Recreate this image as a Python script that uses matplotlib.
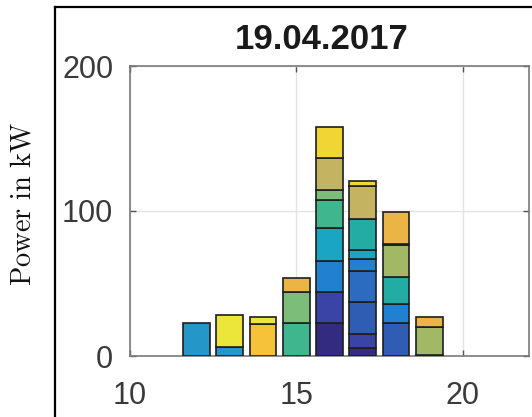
import matplotlib
matplotlib.use("Agg")
import matplotlib.pyplot as plt
from matplotlib.lines import Line2D
import numpy as np

plt.rcParams['font.family'] = ['Liberation Sans', 'DejaVu Sans']
plt.rcParams['mathtext.fontset'] = 'cm'

title = "19.04.2017"
ylabel = r"$\mathrm{Power\ in\ kW}$"
hours = [12, 13, 14, 15, 16, 17, 18, 19]
xticks = [10, 15, 20]
yticks = [0, 100, 200]

# stacked series (kW per hour), bottom to top
series_values = [
    [0, 0, 0, 0, 22.6, 5.7, 0, 0.8],      # navy
    [0, 0, 0, 0, 21.3, 9.3, 0, 0],        # blue-violet
    [0, 0, 0, 0, 0, 22.4, 22.6, 0],       # blue
    [0, 0, 0, 0, 0, 21.4, 0, 0],          # blue 2
    [0, 0, 0, 0, 21.8, 7.9, 13.1, 0],     # blue 3
    [23.0, 6.0, 0, 0, 0, 0, 0, 0],        # light blue
    [0, 0, 0, 0, 22.4, 6.4, 0, 0],        # cyan
    [0, 0, 0, 0, 0, 21.4, 19.0, 0],       # teal
    [0, 0, 0, 22.6, 19.5, 0, 0, 0],       # teal-green
    [0, 0, 0, 21.3, 6.9, 0, 0, 0],        # light green
    [0, 0, 0, 0, 0, 0, 22.0, 19.4],       # yellow-green
    [0, 0, 0, 0, 21.8, 22.7, 0.6, 0],     # khaki
    [0, 0, 0, 9.7, 0, 0, 22.2, 6.9],      # orange
    [0, 0, 21.9, 0, 0, 0, 0, 0],          # golden
    [0, 0, 0, 0, 21.8, 3.7, 0, 0],        # yellow
    [0, 22.3, 5.2, 0, 0, 0, 0, 0],        # bright yellow
]
series_colors = [
    '#332b80', '#3a44a6', '#2f5db3', '#2b6cc0', '#2180d0', '#2596c8',
    '#1aa5c4', '#22aca4', '#40b68e', '#7cbd7a', '#a2b865', '#c4b462',
    '#ebb545', '#f5c23a', '#f0d535', '#ede63a',
]

W, H = 532, 417
fig = plt.figure(figsize=(W / 100, H / 100), dpi=100)
ax = fig.add_axes([130 / W, 61 / H, 399 / W, 290 / H])

x = np.array(hours, dtype=float)
bottom = np.zeros(len(hours))
for vals, col in zip(series_values, series_colors):
    v = np.array(vals, dtype=float)
    m = v > 0
    ax.bar(x[m], v[m], width=0.8, bottom=bottom[m], color=col,
           edgecolor='#1e1e1e', linewidth=1.2, zorder=3)
    bottom += v

ax.set_xlim(10, 22)
ax.set_ylim(0, 200)
ax.set_xticks(xticks)
ax.set_yticks(yticks)
ax.grid(True, color='#e3e3e3', linewidth=1.0, zorder=0)
ax.set_axisbelow(True)
for s in ax.spines.values():
    s.set_color('#7a7a7a')
    s.set_linewidth(1.2)
ax.tick_params(axis='both', direction='in', length=4, width=1, color='#555555',
               labelsize=22, labelcolor='#3a3a3a', top=True, right=True)
ax.tick_params(axis='x', pad=18)
ax.tick_params(axis='y', pad=12)

fig.text(321.5 / W, (H - 49) / H, title, ha='center', va='baseline',
         fontsize=25, fontweight='bold', color='#1a1a1a')
fig.text(24 / W, (H - 204) / H, ylabel, rotation=90, ha='center', va='center',
         fontsize=20.5, color='#111111')

fig.add_artist(Line2D([55 / W, 55 / W], [0, (H - 7) / H], transform=fig.transFigure,
                      color='black', linewidth=1.6))
fig.add_artist(Line2D([55 / W, 1], [(H - 7) / H, (H - 7) / H], transform=fig.transFigure,
                      color='black', linewidth=1.6))

fig.savefig('out.png', dpi=100)
